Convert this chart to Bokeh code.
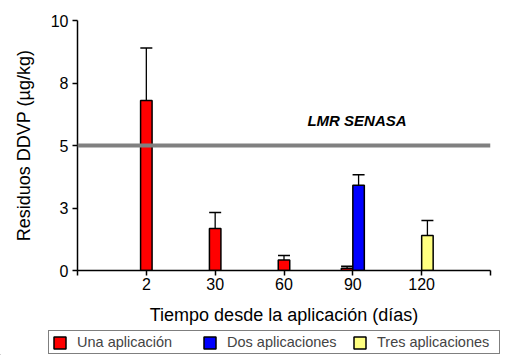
from bokeh.plotting import figure
from bokeh.layouts import column
from bokeh.models import (ColumnDataSource, Range1d, FixedTicker, Legend, LegendItem,
                          Whisker, TeeHead, Label, Span)
from bokeh.embed import file_html
from bokeh.resources import INLINE

# ---- data ----
categories = ["2", "30", "60", "90", "120"]
cat_pos = [1, 2, 3, 4, 5]

una_pos = [1, 2, 3, 4]
una_vals = [6.8, 1.68, 0.42, 0.09]
una_upper = [8.9, 2.32, 0.60, 0.17]

dos_pos = [4]
dos_vals = [3.41]
dos_upper = [3.83]

tres_pos = [5]
tres_vals = [1.40]
tres_upper = [2.00]

series_names = ["Una aplicación", "Dos aplicaciones", "Tres aplicaciones"]
series_colors = ["#FF0000", "#0000FF", "#FFFF80"]

lmr_value = 5
y_ticks = [0, 2.5, 5, 7.5, 10]
y_tick_labels = ["0", "3", "5", "8", "10"]

FONT = "Liberation Sans"
BW = 0.167

p = figure(width=503, height=330, output_backend="svg", toolbar_location=None,
           x_range=Range1d(0, 6), y_range=Range1d(0, 10),
           min_border_left=77, min_border_right=13, min_border_top=20, min_border_bottom=60)
p.frame_align = False
p.background_fill_color = "white"
p.border_fill_color = "white"
p.outline_line_color = None
p.xgrid.grid_line_color = None
p.ygrid.grid_line_color = None

# LMR line
p.add_layout(Span(location=lmr_value, dimension="width", line_color="#808080", line_width=4))


def bars(fig, pos, vals, upper, offsets, color, whisk=True):
    src = ColumnDataSource(dict(x=[a + b for a, b in zip(pos, offsets)], top=vals, upper=upper))
    r = fig.vbar(x="x", top="top", width=BW, source=src, fill_color=color,
                 line_color="black", line_width=1.5)
    if whisk:
        fig.add_layout(Whisker(base="x", lower="top", upper="upper", source=src,
                               line_color="black", line_width=1.3,
                               upper_head=TeeHead(size=12, line_color="black", line_width=1.3),
                               lower_head=None))
    return r


bars(p, una_pos, una_vals, una_upper, [0, 0, 0, -BW / 2], series_colors[0])
bars(p, dos_pos, dos_vals, dos_upper, [BW / 2], series_colors[1])
bars(p, tres_pos, tres_vals, tres_upper, [BW / 2], series_colors[2])

p.add_layout(Label(x=3.34, y=6.0, text="LMR SENASA", text_font=FONT, text_font_size="15px",
                   text_font_style="bold italic", text_baseline="middle", text_color="black"))

# axes
for ax in (p.xaxis[0], p.yaxis[0]):
    ax.axis_line_width = 1.5
    ax.axis_line_color = "black"
    ax.major_tick_line_color = "black"
    ax.major_tick_line_width = 1.5
    ax.major_tick_in = 0
    ax.major_tick_out = 5
    ax.minor_tick_line_color = None
    ax.major_label_text_font = FONT
    ax.major_label_text_font_size = "16px"
    ax.major_label_text_color = "black"
    ax.axis_label_text_font = FONT
    ax.axis_label_text_font_size = "18px"
    ax.axis_label_text_font_style = "normal"
    ax.axis_label_text_color = "black"

p.xaxis.ticker = FixedTicker(ticks=[0] + cat_pos + [6])
ov = {0: ""}
ov.update({pos: lab for pos, lab in zip(cat_pos, categories)})
ov[6] = ""
p.xaxis.major_label_overrides = ov
p.xaxis.major_label_standoff = 2
p.xaxis.axis_label = "Tiempo desde la aplicación (días)"
p.xaxis.axis_label_standoff = 12

p.yaxis.ticker = FixedTicker(ticks=y_ticks)
p.yaxis.major_label_overrides = {t: l for t, l in zip(y_ticks, y_tick_labels)}
p.yaxis.major_label_standoff = 4
p.yaxis.axis_label = "Residuos DDVP (µg/kg)"
p.yaxis.axis_label_standoff = 14

# legend strip (swatch renderers sit outside the visible range)
q = figure(width=503, height=25, output_backend="svg", toolbar_location=None,
           x_range=Range1d(10, 11), y_range=Range1d(0, 1),
           x_axis_type=None, y_axis_type=None,
           min_border_left=0, min_border_right=0, min_border_top=0, min_border_bottom=0)
q.frame_align = False
q.outline_line_color = None
q.xgrid.grid_line_color = None
q.ygrid.grid_line_color = None
q.background_fill_color = "white"
q.border_fill_color = "white"
sw = [bars(q, [cat_pos[0]], [0], [0], [0], c, whisk=False) for c in series_colors]

legend = Legend(items=[LegendItem(label=n, renderers=[r]) for n, r in zip(series_names, sw)],
                orientation="horizontal", location=(48, 1),
                border_line_color="black", border_line_width=1,
                background_fill_color="white", background_fill_alpha=1,
                label_text_font=FONT, label_text_font_size="14.5px",
                glyph_width=15, glyph_height=15, label_standoff=10,
                label_width=119, label_height=15, spacing=6, padding=3, margin=0)
q.add_layout(legend, "center")

layout = column(p, q, spacing=0)
open("out.html", "w").write(file_html(layout, INLINE))
